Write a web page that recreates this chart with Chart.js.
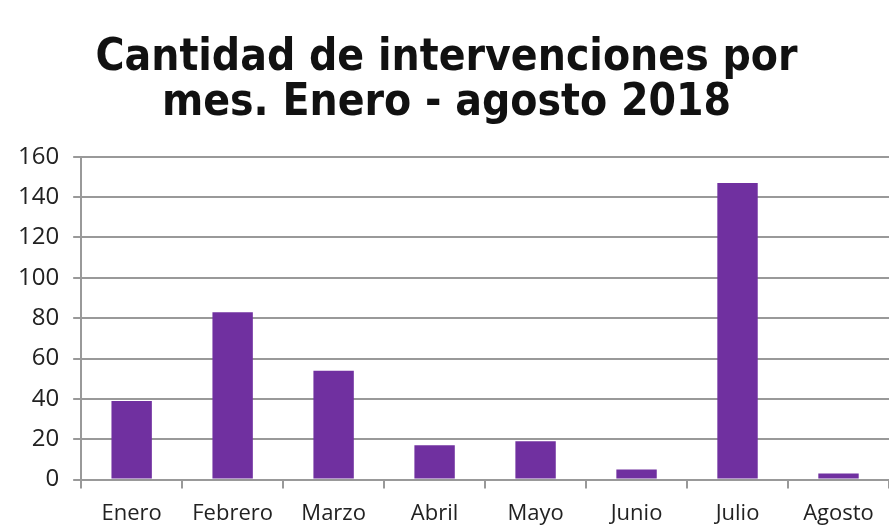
<!DOCTYPE html>
<html>
<head>
<meta charset="utf-8">
<script src="https://cdn.jsdelivr.net/npm/chart.js@4"></script>
<style>
  html, body { margin: 0; padding: 0; background: #fff; }
  #wrap { width: 889px; height: 527px; }
</style>
</head>
<body>
<div id="wrap"><canvas id="myChart"></canvas></div>
<script>
// meses y cantidades
const meses = ['Enero', 'Febrero', 'Marzo', 'Abril', 'Mayo', 'Junio', 'Julio', 'Agosto'];
const intervenciones = [39, 83, 54, 17, 19, 5, 147, 3];
const titulo = ['Cantidad de intervenciones por', 'mes. Enero - agosto 2018'];

const ctx = document.getElementById('myChart');

new Chart(ctx, {
  type: 'bar',
  data: {
    labels: meses,
    datasets: [{
      label: 'Intervenciones',
      data: intervenciones,
      backgroundColor: '#7030a0',
      barPercentage: 0.4,
      categoryPercentage: 1
    }]
  },
  options: {
    responsive: true,
    maintainAspectRatio: false,
    animation: false,
    layout: { padding: { left: 4, right: 0, top: 36, bottom: -12 } },
    plugins: {
      legend: { display: false },
      tooltip: { enabled: false },
      title: {
        display: true,
        text: titulo,
        color: '#111',
        font: { family: "'DejaVu Sans Condensed', 'DejaVu Sans', sans-serif", size: 44, weight: 'bold', lineHeight: 1.02 },
        padding: { top: 0, bottom: 31 }
      }
    },
    scales: {
      x: {
        grid: { display: true, drawOnChartArea: false, offset: true, tickLength: 9, color: '#999', lineWidth: 2 },
        border: { color: '#999', width: 2 },
        ticks: { color: '#222', font: { family: "'Open Sans', sans-serif", size: 22 }, padding: 12, maxRotation: 0 }
      },
      y: {
        min: 0,
        max: 160,
        ticks: { stepSize: 20, color: '#222', font: { family: "'Open Sans', sans-serif", size: 24 }, padding: 14 },
        grid: { color: '#999', lineWidth: 2, tickLength: 8 },
        border: { color: '#999', width: 2 }
      }
    }
  }
});
</script>
</body>
</html>
